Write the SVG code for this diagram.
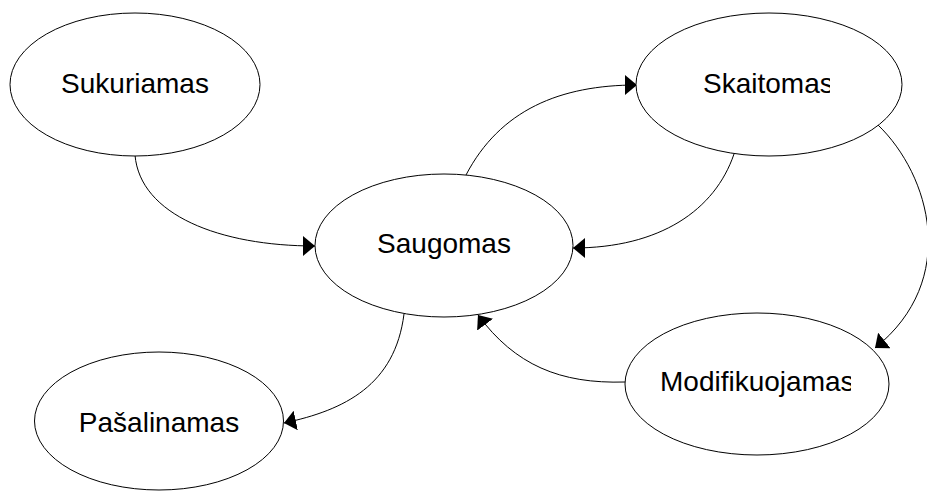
<svg xmlns="http://www.w3.org/2000/svg" width="927" height="491" viewBox="0 0 927 491">
  <style>
    .node ellipse { fill: #ffffff; stroke: #000000; stroke-width: 1; }
    .node text { font-family: "Liberation Sans", Arial, sans-serif; font-size: 28px; fill: #000000; }
    .edge { fill: none; stroke: #000000; stroke-width: 1; marker-end: url(#arrow); }
  </style>
  <defs>
    <marker id="arrow" markerUnits="userSpaceOnUse" viewBox="0 0 12 20" markerWidth="12" markerHeight="20" refX="12" refY="10" orient="auto">
      <path d="M0,0 L12,10 L0,20 z" fill="#000000"/>
    </marker>
    <!-- labels that run past their text box are cut off at its edge -->
    <clipPath id="clip-skaitomas"><rect x="690" y="50" width="140" height="60"/></clipPath>
    <clipPath id="clip-modifikuojamas"><rect x="640" y="350" width="211" height="60"/></clipPath>
  </defs>

  <rect width="927" height="491" fill="#ffffff"/>

  <g id="connectors">
    <path class="edge" d="M135,155 C140,215 220,246 315,246"/>
    <path class="edge" d="M466,175 C500,110 560,85 637,85"/>
    <path class="edge" d="M734,154 C715,210 660,248 573,248"/>
    <path class="edge" d="M878,125 C930,175 960,280 875,348"/>
    <path class="edge" d="M625,382 C560,384 515,365 478,315"/>
    <path class="edge" d="M404,314 C395,385 345,410 284,423"/>
  </g>

  <g id="sukuriamas" class="node">
    <ellipse cx="135" cy="84.5" rx="125" ry="71.5"/>
    <text x="135" y="93" text-anchor="middle">Sukuriamas</text>
  </g>

  <g id="saugomas" class="node">
    <ellipse cx="444" cy="245.5" rx="129" ry="71.5"/>
    <text x="444" y="253" text-anchor="middle">Saugomas</text>
  </g>

  <g id="skaitomas" class="node">
    <ellipse cx="769" cy="84.5" rx="133" ry="71.5"/>
    <text x="703" y="93" clip-path="url(#clip-skaitomas)">Skaitomas</text>
  </g>

  <g id="modifikuojamas" class="node">
    <ellipse cx="757" cy="384" rx="132" ry="71"/>
    <text x="660" y="391" clip-path="url(#clip-modifikuojamas)">Modifikuojamas</text>
  </g>

  <g id="pasalinamas" class="node">
    <ellipse cx="159" cy="421" rx="124.5" ry="69"/>
    <text x="159" y="432" text-anchor="middle">Pašalinamas</text>
  </g>
</svg>
